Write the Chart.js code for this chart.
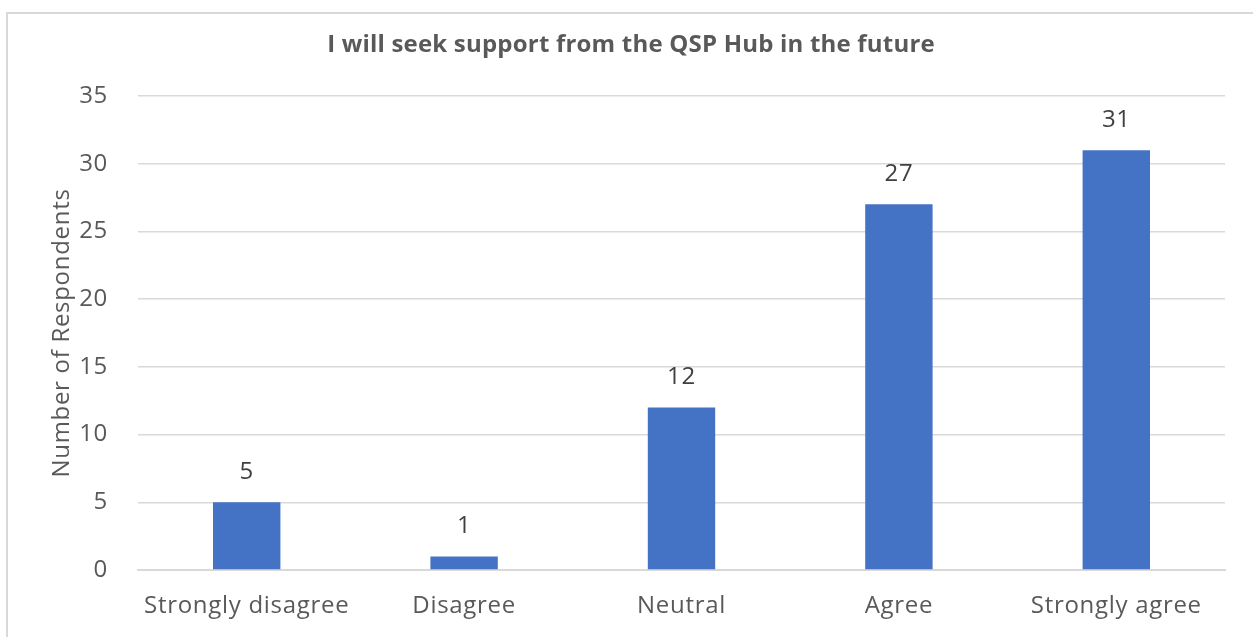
<!DOCTYPE html>
<html>
<head>
<meta charset="utf-8">
<script src="https://cdn.jsdelivr.net/npm/chart.js@4/dist/chart.umd.min.js"></script>
<style>
  html, body { margin: 0; padding: 0; background: #fff; overflow: hidden; }
  #frame {
    position: absolute; left: 6px; top: 12px;
    width: 1260px; height: 640px;
    border: 2px solid #d9d9d9; box-sizing: border-box;
  }
  #wrap { position: absolute; left: 8px; top: 14px; width: 1245px; height: 623px; }
</style>
</head>
<body>
<div id="frame"></div>
<div id="wrap"><canvas id="chart"></canvas></div>
<script>
// Survey responses
const categories = ['Strongly disagree', 'Disagree', 'Neutral', 'Agree', 'Strongly agree'];
const respondents = [5, 1, 12, 27, 31];
const yTicks = [0, 5, 10, 15, 20, 25, 30, 35];

const FONT = "'Open Sans', sans-serif";
const GREY = '#595959';
const SPACING = '0.7px';

// slightly wider letter spacing for every text on the canvas
const spacing = {
  id: 'spacing',
  beforeUpdate(chart) { chart.ctx.letterSpacing = SPACING; },
  beforeDraw(chart) { chart.ctx.letterSpacing = SPACING; }
};

// value labels above each bar
const barLabels = {
  id: 'barLabels',
  afterDatasetsDraw(chart) {
    const ctx = chart.ctx;
    const meta = chart.getDatasetMeta(0);
    ctx.save();
    ctx.font = '24px ' + FONT;
    ctx.fillStyle = '#404040';
    ctx.textAlign = 'center';
    ctx.textBaseline = 'middle';
    meta.data.forEach((bar, i) => {
      ctx.fillText(String(respondents[i]), bar.x, bar.y - 30);
    });
    ctx.restore();
  }
};

// chart heading
const heading = {
  id: 'heading',
  afterDraw(chart) {
    const ctx = chart.ctx;
    ctx.save();
    ctx.letterSpacing = '0.2px';
    ctx.font = 'bold 24px ' + FONT;
    ctx.fillStyle = GREY;
    ctx.textAlign = 'center';
    ctx.textBaseline = 'middle';
    ctx.fillText('I will seek support from the QSP Hub in the future', 623, 31);
    ctx.restore();
  }
};

new Chart(document.getElementById('chart'), {
  type: 'bar',
  data: {
    labels: categories,
    datasets: [{
      data: respondents,
      backgroundColor: '#4472C4',
      categoryPercentage: 1,
      barPercentage: 0.31
    }]
  },
  options: {
    responsive: true,
    maintainAspectRatio: false,
    animation: false,
    layout: { padding: { top: 82, right: 28, left: 0, bottom: 0 } },
    plugins: { legend: { display: false }, tooltip: { enabled: false } },
    scales: {
      x: {
        afterFit: s => { s.height = 67; },
        grid: { display: false, drawTicks: false },
        border: { color: '#d9d9d9', width: 2 },
        ticks: { color: GREY, padding: 22, font: { family: FONT, size: 24 } }
      },
      y: {
        min: 0, max: 35,
        afterFit: s => { s.width = 130; },
        afterBuildTicks: s => { s.ticks = yTicks.map(v => ({ value: v })); },
        grid: { color: '#d9d9d9', lineWidth: 1.5, drawTicks: false },
        border: { display: false },
        ticks: { color: GREY, padding: 30, font: { family: FONT, size: 24 } },
        title: {
          display: true, text: 'Number of Respondents', color: GREY,
          padding: { top: 40, bottom: 0 }, font: { family: FONT, size: 24 }
        }
      }
    }
  },
  plugins: [spacing, barLabels, heading]
});
</script>
</body>
</html>
